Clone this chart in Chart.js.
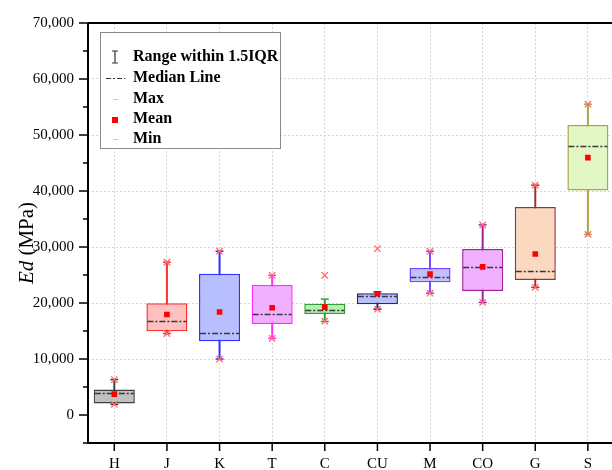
<!DOCTYPE html>
<html lang="en">
<head>
    <meta charset="UTF-8">
    <title>Ed box chart</title>
    <script src="https://cdn.jsdelivr.net/npm/chart.js"></script>
    <style>
        html, body { margin: 0; padding: 0; overflow: hidden; background: #fff; }
        #wrap { width: 612px; height: 470px; overflow: hidden; }
    </style>
</head>
<body>
    <div id="wrap">
        <canvas id="edChart" width="620" height="470" style="width:620px;height:470px"></canvas>
    </div>
    <script>
        const categories = ['H', 'J', 'K', 'T', 'C', 'CU', 'M', 'CO', 'G', 'S'];
        const q1 = [2070, 14950, 13170, 16250, 18020, 19790, 23690, 22150, 24100, 40100];
        const q3 = [4550, 19970, 25220, 23220, 19850, 21740, 26230, 29650, 37160, 51800];
        const medians = [3950, 16800, 14600, 18000, 18800, 21200, 24600, 26400, 25650, 47950];
        const means = [3720, 17950, 18400, 19150, 19250, 21650, 25150, 26450, 28750, 45950];
        const maxVals = [6330, 27300, 29250, 24950, 24950, 29700, 29250, 33950, 41050, 55500];
        const minVals = [1900, 14550, 10000, 13700, 16750, 18900, 21750, 20100, 22800, 32250];
        const whiskerHi = [6330, 27300, 29250, 24950, 20700, 22000, 29250, 33950, 41050, 55500];
        const whiskerLo = [1900, 14550, 10000, 13700, 16700, 18900, 21750, 20100, 22800, 32250];

        const fills = ['#c0c0c0', '#ffc0c0', '#b8bfff', '#f0b0ff', '#b4f0b4', '#b8c0ff', '#c0c0ff', '#f0b0ff', '#fad9c0', '#e2f7c4'];
        const strokes = ['#404040', '#ff3030', '#3030ff', '#ff30ff', '#30a030', '#202890', '#8040ff', '#a020a0', '#a03030', '#a8a840'];

        const serif = "'Liberation Serif', 'Times New Roman', serif";

        // whiskers behind boxes, medians on top of boxes
        const boxExtras =
        {
            id: 'boxExtras',
            beforeDatasetsDraw(chart)
            {
                const ctx = chart.ctx;
                const x = chart.scales.x, y = chart.scales.y;
                ctx.save();
                categories.forEach((c, i) =>
                {
                    const px = x.getPixelForValue(i);
                    ctx.strokeStyle = strokes[i];
                    ctx.lineWidth = 2;
                    ctx.beginPath();
                    ctx.moveTo(px, y.getPixelForValue(whiskerHi[i]));
                    ctx.lineTo(px, y.getPixelForValue(whiskerLo[i]));
                    ctx.stroke();
                    ctx.lineWidth = 1.5;
                    [whiskerHi[i], whiskerLo[i]].forEach(v =>
                    {
                        const py = y.getPixelForValue(v);
                        ctx.beginPath();
                        ctx.moveTo(px - 4, py);
                        ctx.lineTo(px + 4, py);
                        ctx.stroke();
                    });
                });
                ctx.restore();
            },
            afterDatasetDraw(chart, args)
            {
                if (args.index !== 0) return;
                const ctx = chart.ctx;
                const y = chart.scales.y;
                const meta = chart.getDatasetMeta(0);
                ctx.save();
                ctx.strokeStyle = '#383838';
                ctx.lineWidth = 1.5;
                ctx.setLineDash([6, 2, 2, 2]);
                meta.data.forEach((bar, i) =>
                {
                    const py = Math.round(y.getPixelForValue(medians[i])) + 0.5;
                    ctx.beginPath();
                    ctx.moveTo(bar.x - bar.width / 2 + 1, py);
                    ctx.lineTo(bar.x + bar.width / 2 - 1, py);
                    ctx.stroke();
                });
                ctx.restore();
            }
        };

        // axes, tick marks, y title and the legend box
        const decorations =
        {
            id: 'decorations',
            afterDraw(chart)
            {
                const ctx = chart.ctx;
                const area = chart.chartArea;
                const x = chart.scales.x, y = chart.scales.y;
                ctx.save();
                ctx.strokeStyle = '#000';
                ctx.lineWidth = 2;
                ctx.beginPath();
                ctx.moveTo(area.left, area.top);
                ctx.lineTo(area.right + 5, area.top);
                ctx.moveTo(area.left, area.top);
                ctx.lineTo(area.left, area.bottom);
                ctx.moveTo(area.left - 1, area.bottom);
                ctx.lineTo(area.right + 5, area.bottom);
                ctx.stroke();

                ctx.lineWidth = 1.5;
                y.ticks.forEach(t =>
                {
                    const py = y.getPixelForValue(t.value);
                    const len = t.value % 10000 === 0 ? 9 : 5;
                    ctx.beginPath();
                    ctx.moveTo(area.left - len, py);
                    ctx.lineTo(area.left, py);
                    ctx.stroke();
                });
                categories.forEach((c, i) =>
                {
                    const px = x.getPixelForValue(i);
                    ctx.beginPath();
                    ctx.moveTo(px, area.bottom);
                    ctx.lineTo(px, area.bottom + 8);
                    ctx.stroke();
                });

                // y title: italic Ed + (MPa)
                ctx.translate(27, 243);
                ctx.rotate(-Math.PI / 2);
                ctx.fillStyle = '#000';
                ctx.textBaseline = 'middle';
                ctx.font = 'italic 21px ' + serif;
                const w1 = ctx.measureText('Ed').width;
                ctx.font = '21px ' + serif;
                const w2 = ctx.measureText(' (MPa)').width;
                let sx = -(w1 + w2) / 2;
                ctx.font = 'italic 21px ' + serif;
                ctx.textAlign = 'left';
                ctx.fillText('Ed', sx, 0);
                ctx.font = '21px ' + serif;
                ctx.fillText(' (MPa)', sx + w1, 0);
                ctx.restore();

                // legend
                ctx.save();
                ctx.fillStyle = '#fff';
                ctx.fillRect(100, 32, 180, 116);
                ctx.strokeStyle = '#8a8a8a';
                ctx.lineWidth = 1;
                ctx.strokeRect(100.5, 32.5, 180, 116);
                ctx.font = 'bold 16px ' + serif;
                ctx.fillStyle = '#000';
                ctx.textBaseline = 'middle';
                const rows = ['Range within 1.5IQR', 'Median Line', 'Max', 'Mean', 'Min'];
                const rowY = [57, 78, 99, 119, 139];
                rows.forEach((r, k) => ctx.fillText(r, 133, rowY[k]));
                ctx.strokeStyle = '#333';
                ctx.lineWidth = 1.2;
                ctx.beginPath();
                ctx.moveTo(115, 51); ctx.lineTo(115, 63);
                ctx.moveTo(112, 51); ctx.lineTo(118, 51);
                ctx.moveTo(112, 63); ctx.lineTo(118, 63);
                ctx.stroke();
                ctx.setLineDash([5, 2, 2, 2]);
                ctx.beginPath();
                ctx.moveTo(106, 78.5); ctx.lineTo(125, 78.5);
                ctx.stroke();
                ctx.setLineDash([]);
                ctx.strokeStyle = '#ffb0b0';
                ctx.beginPath();
                ctx.moveTo(113, 99.5); ctx.lineTo(118, 99.5);
                ctx.moveTo(113, 139.5); ctx.lineTo(118, 139.5);
                ctx.stroke();
                ctx.fillStyle = '#ff0000';
                ctx.fillRect(112, 117, 6, 6);
                ctx.restore();
            }
        };

        const ctx = document.getElementById('edChart').getContext('2d');
        new Chart(ctx,
        {
            type: 'bar',
            data:
            {
                labels: categories,
                datasets:
                [
                    {
                        label: 'Box',
                        data: categories.map((c, i) => [q1[i], q3[i]]),
                        backgroundColor: fills,
                        borderColor: strokes,
                        borderWidth: 1.5,
                        borderSkipped: false,
                        categoryPercentage: 1,
                        barPercentage: 0.78,
                        order: 3
                    },
                    {
                        type: 'line',
                        label: 'Mean',
                        data: means,
                        showLine: false,
                        pointStyle: 'rect',
                        pointRadius: 4,
                        pointBackgroundColor: '#ff0000',
                        pointBorderColor: '#ff0000',
                        pointBorderWidth: 0,
                        order: 1
                    },
                    {
                        type: 'line',
                        label: 'Max',
                        data: maxVals,
                        showLine: false,
                        pointStyle: 'crossRot',
                        pointRadius: 4.5,
                        pointBorderColor: '#ff6868',
                        pointBorderWidth: 1.3,
                        order: 2
                    },
                    {
                        type: 'line',
                        label: 'Min',
                        data: minVals,
                        showLine: false,
                        pointStyle: 'crossRot',
                        pointRadius: 4.5,
                        pointBorderColor: '#ff6868',
                        pointBorderWidth: 1.3,
                        order: 2
                    }
                ]
            },
            options:
            {
                responsive: false,
                animation: false,
                devicePixelRatio: 1,
                layout: { padding: { top: 20, right: 3, left: 0, bottom: 0 } },
                plugins:
                {
                    legend: { display: false },
                    tooltip: { enabled: false }
                },
                scales:
                {
                    x:
                    {
                        offset: true,
                        grid:
                        {
                            offset: false,
                            drawTicks: false,
                            color: '#d6d6d6'
                        },
                        border: { display: false, dash: [2, 2] },
                        ticks:
                        {
                            padding: 12,
                            color: '#000',
                            font: { family: serif, size: 15 }
                        },
                        afterFit(scale) { scale.height = 27; }
                    },
                    y:
                    {
                        min: -5000,
                        max: 70000,
                        grid:
                        {
                            drawTicks: false,
                            color: c => (c.tick && c.tick.value % 10000 === 0 && c.tick.value > 0 && c.tick.value < 70000) ? '#d6d6d6' : 'rgba(0,0,0,0)'
                        },
                        border: { display: false, dash: [2, 2] },
                        ticks:
                        {
                            stepSize: 5000,
                            autoSkip: false,
                            padding: 14,
                            color: '#000',
                            font: { family: serif, size: 15 },
                            callback: v => v % 10000 === 0 ? v.toLocaleString('en-US') : ''
                        },
                        afterFit(scale) { scale.width = 88; }
                    }
                }
            },
            plugins: [boxExtras, decorations]
        });
    </script>
</body>
</html>
